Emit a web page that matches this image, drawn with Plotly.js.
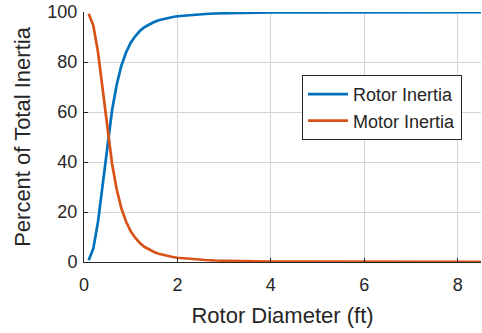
<!DOCTYPE html>
<html>
<head>
<meta charset="utf-8">
<script src="https://cdn.plot.ly/plotly-3.0.1.min.js"></script>
<style>html,body{margin:0;padding:0;background:#fff;}#chart{width:482px;height:333px;}</style>
</head>
<body>
<div id="chart"></div>
<script>
var diameter = [0.1,0.2,0.3,0.4,0.5,0.6,0.7,0.8,0.9,1.0,1.1,1.2,1.3,1.4,1.5,1.6,1.7,1.8,1.9,2.0,2.2,2.4,2.6,2.8,3.0,3.5,4.0,4.5,5.0,6.0,7.0,8.0,8.5];
var rotorInertia = [0.7,5.4,16.1,31.3,47.1,60.6,70.9,78.5,83.8,87.7,90.4,92.5,94.0,95.1,96.0,96.7,97.2,97.6,98.0,98.3,98.7,99.0,99.2,99.4,99.5,99.7,99.8,99.85,99.9,99.93,99.96,99.98,99.98];
var motorInertia = [99.3,94.6,83.9,68.7,52.9,39.4,29.1,21.5,16.2,12.3,9.6,7.5,6.0,4.9,4.0,3.3,2.8,2.4,2.0,1.7,1.3,1.0,0.8,0.6,0.5,0.3,0.2,0.15,0.1,0.07,0.04,0.02,0.02];
var xTicks = [0,2,4,6,8];
var yTicks = [0,20,40,60,80,100];

var font = 'Liberation Sans, Arial, Helvetica, sans-serif';
var traces = [
  {x: diameter, y: rotorInertia, type: 'scatter', mode: 'lines', name: 'Rotor Inertia',
   line: {color: '#0072BD', width: 2.7}},
  {x: diameter, y: motorInertia, type: 'scatter', mode: 'lines', name: 'Motor Inertia',
   line: {color: '#D95319', width: 2.7}}
];
var axisCommon = {
  showline: true, linecolor: '#262626', linewidth: 1,
  ticks: 'inside', ticklen: 4, tickcolor: '#262626',
  showgrid: true, gridcolor: '#d4d4d4', gridwidth: 1,
  zeroline: false, mirror: false,
  tickfont: {family: font, size: 18, color: '#262626'}
};
var layout = {
  width: 482, height: 333,
  margin: {l: 84, r: 1, t: 12, b: 71},
  paper_bgcolor: '#fff', plot_bgcolor: '#fff',
  showlegend: true,
  legend: {x: 0.549, y: 0.748, xanchor: 'left', yanchor: 'top',
    bgcolor: '#fff', bordercolor: '#262626', borderwidth: 1, itemwidth: 40,
    font: {family: font, size: 18, color: '#262626'}, tracegroupgap: 0},
  xaxis: Object.assign({}, axisCommon, {range: [0, 8.5], tickvals: xTicks, ticklabelstandoff: 6,
    title: {text: 'Rotor Diameter (ft)', font: {family: font, size: 22, color: '#262626'}, standoff: 14}}),
  yaxis: Object.assign({}, axisCommon, {range: [0, 100], tickvals: yTicks, ticklabelstandoff: 2,
    title: {text: 'Percent of Total Inertia', font: {family: font, size: 22, color: '#262626'}, standoff: 10}})
};
Plotly.newPlot('chart', traces, layout, {displayModeBar: false, staticPlot: true});
</script>
</body>
</html>
